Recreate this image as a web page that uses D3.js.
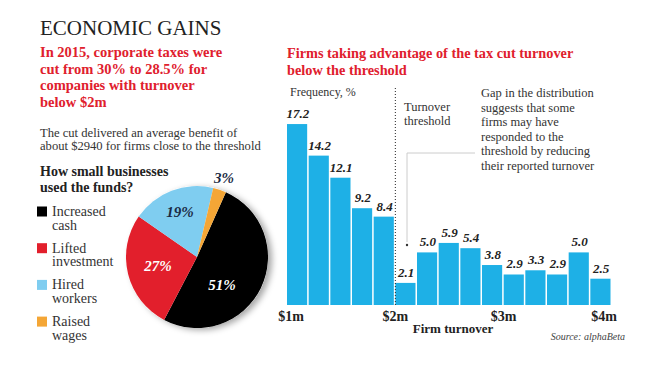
<!DOCTYPE html>
<html>
<head>
<meta charset="utf-8">
<script src="https://cdn.jsdelivr.net/npm/d3@7"></script>
<style>
  body { margin: 0; background: #fff; }
  svg { display: block; font-family: "Liberation Serif", "DejaVu Serif", serif; }
</style>
</head>
<body>
<div id="chart"></div>
<script>
/** pie data */
var useLabels = ["Increased cash", "Lifted investment", "Hired workers", "Raised wages"];
var useShares = [51, 27, 19, 3];
var useColours = ["#000000", "#e21f2c", "#7fcdf0", "#f4a636"];

/** histogram data, turnover bins of $0.2m from $1m to $4m */
var binStarts = [1.0, 1.2, 1.4, 1.6, 1.8, 2.0, 2.2, 2.4, 2.6, 2.8, 3.0, 3.2, 3.4, 3.6, 3.8];
var frequency = [17.2, 14.2, 12.1, 9.2, 8.4, 2.1, 5.0, 5.9, 5.4, 3.8, 2.9, 3.3, 2.9, 5.0, 2.5];
var tickValues = [1, 2, 3, 4];
var tickLabels = ["$1m", "$2m", "$3m", "$4m"];

var width = 650, height = 366;

var svg = d3.select("#chart")
  .append("svg")
    .attr("width", width)
    .attr("height", height);

/** shadow behind the pie */
var defs = svg.append("defs");
var shadow = defs.append("filter").attr("id", "shadow")
  .attr("x", "-20%").attr("y", "-20%").attr("width", "140%").attr("height", "140%");
shadow.append("feDropShadow")
  .attr("dx", 4).attr("dy", 2).attr("stdDeviation", 3)
  .attr("flood-color", "#000").attr("flood-opacity", 0.35);

/** helper for multi-line text */
function lines(x, y, arr, lh, opts) {
  var t = svg.append("text").attr("x", x).attr("y", y);
  Object.keys(opts).forEach(function(k) { t.attr(k, opts[k]); });
  arr.forEach(function(s, i) {
    t.append("tspan").attr("x", x).attr("y", y + i * lh).text(s);
  });
  return t;
}

/** left column texts */
svg.append("text")
  .attr("x", 40).attr("y", 35)
  .attr("font-size", 21).attr("fill", "#222")
  .text("ECONOMIC GAINS");

lines(40, 57, ["In 2015, corporate taxes were", "cut from 30% to 28.5% for",
  "companies with turnover", "below $2m"], 16.5,
  {"font-size": 14.5, "font-weight": "bold", "fill": "#e0202d"});

lines(40, 137, ["The cut delivered an average benefit of",
  "about $2940 for firms close to the threshold"], 13,
  {"font-size": 12.6, "fill": "#333"});

lines(40, 176, ["How small businesses", "used the funds?"], 16,
  {"font-size": 14, "font-weight": "bold", "fill": "#222"});

/** legend */
var legend = svg.append("g");
useLabels.forEach(function(name, i) {
  var y0 = 216 + i * 36.7;
  legend.append("rect")
    .attr("x", 37).attr("y", y0 - 9.5)
    .attr("width", 10).attr("height", 10)
    .attr("fill", useColours[i]);
  var words = name.split(" ");
  lines(52, y0, words, 13.5, {"font-size": 14, "fill": "#333"});
});

/** pie */
var rad = 71;
var pieG = svg.append("g").attr("transform", "translate(197,257)");
var start = 24 * Math.PI / 180;
var pie = d3.pie().sort(null).value(function(d) { return d; })
  .startAngle(start).endAngle(start + 2 * Math.PI);
var arcs = pie(useShares);
var arc = d3.arc().innerRadius(0).outerRadius(rad);

pieG.append("circle").attr("r", rad).attr("fill", "#fff").attr("filter", "url(#shadow)");
pieG.selectAll("path")
  .data(arcs)
  .enter()
  .append("path")
    .attr("d", arc)
    .attr("fill", function(d, i) { return useColours[i]; });

var labelPos = [[25, 33], [-39, 14], [-17, -40], [27, -74]];
var labelFill = ["#fff", "#fff", "#1a2a44", "#1a2a44"];
pieG.selectAll("text.pct")
  .data(arcs)
  .enter()
  .append("text")
    .attr("class", "pct")
    .attr("x", function(d, i) { return labelPos[i][0]; })
    .attr("y", function(d, i) { return labelPos[i][1]; })
    .attr("text-anchor", "middle")
    .attr("font-size", 15).attr("font-weight", "bold").attr("font-style", "italic")
    .attr("fill", function(d, i) { return labelFill[i]; })
    .text(function(d) { return d.data + "%"; });

/** bar chart */
lines(287, 58, ["Firms taking advantage of the tax cut turnover", "below the threshold"], 16.5,
  {"font-size": 14.3, "font-weight": "bold", "fill": "#e0202d"});

svg.append("text")
  .attr("x", 290).attr("y", 96)
  .attr("font-size", 12).attr("fill", "#333")
  .text("Frequency, %");

var x = d3.scaleLinear().domain([1, 4]).range([287, 612]);
var y = d3.scaleLinear().domain([0, 18]).range([305, 305 - 18 * 10.52]);
var binW = 0.2;

svg.selectAll("rect.bar")
  .data(frequency)
  .enter()
  .append("rect")
    .attr("class", "bar")
    .attr("x", function(d, i) { return x(binStarts[i]); })
    .attr("y", function(d) { return y(d); })
    .attr("width", function(d, i) { return x(binStarts[i] + binW) - x(binStarts[i]) - 1.5; })
    .attr("height", function(d) { return y(0) - y(d); })
    .attr("fill", "#1eb0e6");

svg.selectAll("text.val")
  .data(frequency)
  .enter()
  .append("text")
    .attr("class", "val")
    .attr("x", function(d, i) { return (x(binStarts[i]) + x(binStarts[i] + binW)) / 2; })
    .attr("y", function(d) { return y(d) - 6; })
    .attr("text-anchor", "middle")
    .attr("font-size", 13).attr("font-weight", "bold").attr("font-style", "italic")
    .attr("fill", "#222")
    .text(function(d) { return d.toFixed(1); });

/** x axis labels */
var tickDx = [4, 0, 0, -8];
svg.selectAll("text.tick")
  .data(tickValues)
  .enter()
  .append("text")
    .attr("class", "tick")
    .attr("x", function(d, i) { return x(d) + tickDx[i]; })
    .attr("y", 321)
    .attr("text-anchor", "middle")
    .attr("font-size", 14).attr("font-weight", "bold").attr("fill", "#222")
    .text(function(d, i) { return tickLabels[i]; });

svg.append("text")
  .attr("x", 453).attr("y", 333)
  .attr("text-anchor", "middle")
  .attr("font-size", 13).attr("font-weight", "bold").attr("fill", "#222")
  .text("Firm turnover");

svg.append("text")
  .attr("x", 625).attr("y", 340)
  .attr("text-anchor", "end")
  .attr("font-size", 10).attr("font-style", "italic").attr("fill", "#444")
  .text("Source: alphaBeta");

/** threshold line and annotations */
svg.append("line")
  .attr("x1", x(2)).attr("x2", x(2))
  .attr("y1", 88).attr("y2", y(0))
  .attr("stroke", "#222").attr("stroke-width", 1)
  .attr("stroke-dasharray", "1,2");

lines(404, 111, ["Turnover", "threshold"], 14, {"font-size": 12.5, "fill": "#333"});

svg.append("path")
  .attr("d", "M475,153 H407 V242")
  .attr("fill", "none").attr("stroke", "#ccc").attr("stroke-width", 1);
svg.append("circle").attr("cx", 407).attr("cy", 245).attr("r", 1.2).attr("fill", "#333");

lines(481, 97, ["Gap in the distribution", "suggests that some", "firms may have",
  "responded to the", "threshold by reducing", "their reported turnover"], 14.6,
  {"font-size": 12.5, "fill": "#333"});
</script>
</body>
</html>
